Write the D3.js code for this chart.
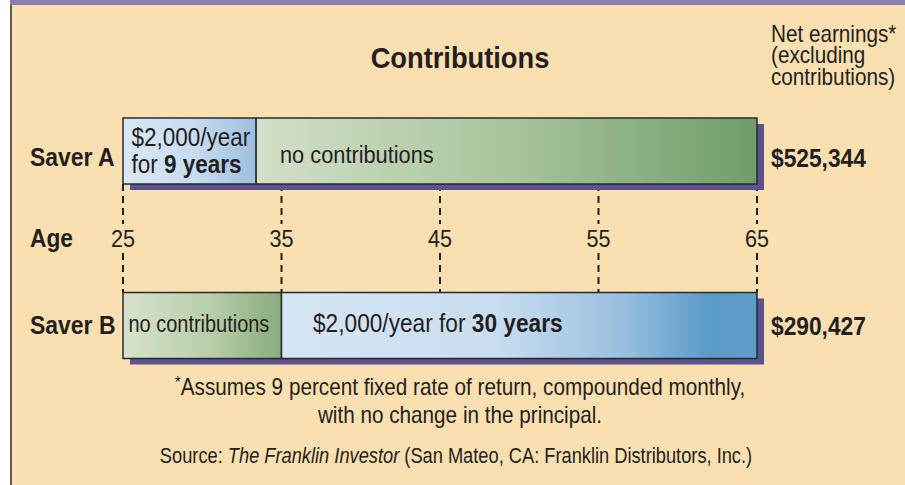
<!DOCTYPE html>
<html>
<head>
<meta charset="utf-8">
<script src="https://cdn.jsdelivr.net/npm/d3@7"></script>
<style>
  html, body { margin: 0; padding: 0; background: #ffffff; }
  svg { display: block; }
  text { font-family: "Liberation Sans", Arial, Helvetica, sans-serif; fill: #231f20; }
</style>
</head>
<body>
<svg id="chart" width="905" height="485"></svg>
<script>
// Savers and their bar segments (ages)
const savers = ["Saver A", "Saver B"];
const segmentStart = [[25, 33.4], [25, 35]];
const segmentEnd = [[33.4, 65], [35, 65]];
const segmentKind = [["contrib", "none"], ["none", "contrib"]];
// Net earnings (excluding contributions)
const netEarnings = [525344, 290427];
// Age axis ticks
const ageTicks = [25, 35, 45, 55, 65];

const W = 905, H = 485;
const NARROW = 0.9; // horizontal squeeze for a condensed look
const svg = d3.select("#chart");

// Condensed text helper
function label(parent, px, py, size, opts = {}) {
  const sx = opts.sx || NARROW;
  const t = parent.append("text")
    .attr("transform", `translate(${px},${py}) scale(${sx},1)`)
    .attr("font-size", size);
  if (opts.bold) t.attr("font-weight", "bold");
  if (opts.anchor) t.attr("text-anchor", opts.anchor);
  if (opts.text !== undefined) t.text(opts.text);
  return t;
}

// Panel background, left rule and top band
svg.append("rect").attr("x", 10).attr("y", 0).attr("width", W - 10).attr("height", H).attr("fill", "#fadfb0");
svg.append("rect").attr("x", 10).attr("y", 0).attr("width", 2).attr("height", H).attr("fill", "#5b5b5b");
svg.append("rect").attr("x", 10).attr("y", 0).attr("width", W - 10).attr("height", 5).attr("fill", "#8880b1");

const x = d3.scaleLinear().domain([25, 65]).range([123, 757]);
const y = d3.scalePoint().domain(savers).range([151, 325.5]);
const barH = 66;

// Gradients
const defs = svg.append("defs");
function grad(id, stops) {
  const g = defs.append("linearGradient").attr("id", id).attr("x1", "0%").attr("x2", "100%").attr("y1", "0%").attr("y2", "0%");
  stops.forEach(([o, c]) => g.append("stop").attr("offset", o).attr("stop-color", c));
}
grad("contribA", [["0%", "#d9e7f5"], ["55%", "#c7dbef"], ["100%", "#9dbedf"]]);
grad("noneA", [["0%", "#d3dfc8"], ["50%", "#a9c49c"], ["100%", "#6f9e69"]]);
grad("noneB", [["0%", "#d6e2cb"], ["55%", "#b9ceaa"], ["100%", "#88ac7d"]]);
grad("contribB", [["0%", "#d6e5f4"], ["45%", "#c9ddf0"], ["72%", "#99bfdf"], ["90%", "#5b9bc8"], ["100%", "#5f9dc8"]]);
const fillFor = (i, j) => {
  if (segmentKind[i][j] === "contrib") return i === 0 ? "url(#contribA)" : "url(#contribB)";
  return i === 0 ? "url(#noneA)" : "url(#noneB)";
};

// Dashed age guides between the bars
const dash = "7,5";
const topY = y("Saver A") + barH / 2;
const botY = y("Saver B") - barH / 2;
ageTicks.forEach(t => {
  svg.append("line").attr("x1", x(t)).attr("x2", x(t)).attr("y1", topY).attr("y2", 224)
    .attr("stroke", "#231f20").attr("stroke-width", 2).attr("stroke-dasharray", dash);
  svg.append("line").attr("x1", x(t)).attr("x2", x(t)).attr("y1", 253).attr("y2", botY)
    .attr("stroke", "#231f20").attr("stroke-width", 2).attr("stroke-dasharray", dash);
});

// Age tick labels
svg.append("g").selectAll("text").data(ageTicks).join("text")
  .attr("transform", d => `translate(${x(d)},246.5) scale(${NARROW},1)`)
  .attr("text-anchor", "middle").attr("font-size", 24).text(d => d);
label(svg, 30, 246.5, 25.3, { bold: true, text: "Age" });

// Bars
const labelBase = [166, 334];
savers.forEach((s, i) => {
  const cy = y(s);
  // shadow
  svg.append("rect").attr("x", x(25) + 7).attr("y", cy - barH / 2 + 6)
    .attr("width", x(65) - x(25)).attr("height", barH).attr("fill", "#5a5291");
  segmentStart[i].forEach((a, j) => {
    svg.append("rect").attr("x", x(a)).attr("y", cy - barH / 2)
      .attr("width", x(segmentEnd[i][j]) - x(a)).attr("height", barH)
      .attr("fill", fillFor(i, j)).attr("stroke", "#2a2a2a").attr("stroke-width", 1.5);
  });
  label(svg, 30, labelBase[i], 25.5, { bold: true, text: s });
  label(svg, 771, labelBase[i] + 1, 25.3, { bold: true, text: d3.format("$,")(netEarnings[i]) });
});

// Segment labels
label(svg, 131.5, 146, 25, { text: "$2,000/year" });
const t2 = label(svg, 131.5, 173, 25);
t2.append("tspan").text("for ");
t2.append("tspan").attr("font-weight", "bold").text("9 years");
label(svg, 280, 163, 24.2, { text: "no contributions" });
label(svg, 128.5, 332, 24.5, { sx: 0.815, text: "no contributions" });
const t3 = label(svg, 313, 331.5, 25.2);
t3.append("tspan").text("$2,000/year for ");
t3.append("tspan").attr("font-weight", "bold").text("30 years");

// Title and header
label(svg, 460, 68, 30.3, { bold: true, anchor: "middle", text: "Contributions" });
const hdr = label(svg, 771, 41.5, 23);
["Net earnings*", "(excluding", "contributions)"].forEach((l, i) => {
  hdr.append("tspan").attr("x", 0).attr("dy", i === 0 ? 0 : 22).text(l);
});

// Footnotes
const f1 = label(svg, 460, 395, 23, { anchor: "middle" });
f1.append("tspan").attr("dy", "-7").attr("font-size", 17).text("*");
f1.append("tspan").attr("dy", "7").text("Assumes 9 percent fixed rate of return, compounded monthly,");
label(svg, 460, 423, 23, { anchor: "middle", text: "with no change in the principal." });
const f3 = label(svg, 456, 463, 22, { anchor: "middle", sx: 0.83 });
f3.append("tspan").text("Source: ");
f3.append("tspan").attr("font-style", "italic").text("The Franklin Investor");
f3.append("tspan").text(" (San Mateo, CA: Franklin Distributors, Inc.)");
</script>
</body>
</html>
